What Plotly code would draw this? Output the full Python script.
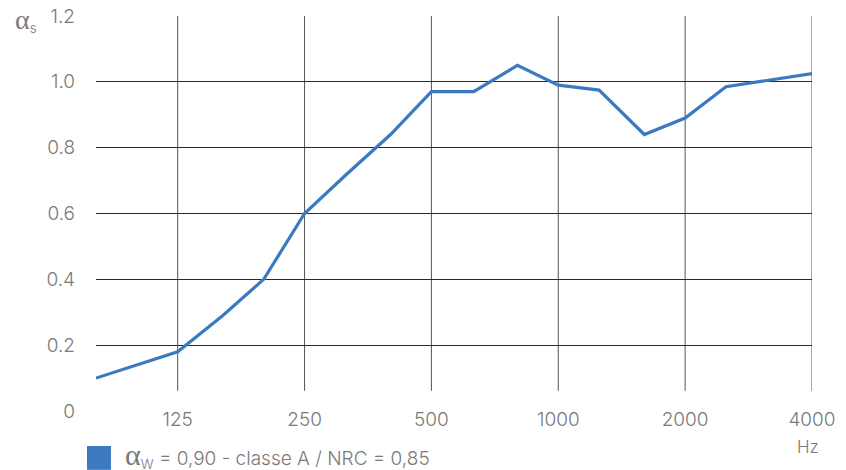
import math
import plotly.graph_objects as go

# Third-octave centre frequencies (Hz) and sound absorption coefficient alpha_s
freqs = [80, 100, 125, 160, 200, 250, 315, 400, 500, 630, 800, 1000, 1250, 1600, 2000, 2500, 3150, 4000]
alpha_s = [0.10, 0.14, 0.18, 0.29, 0.40, 0.60, 0.72, 0.84, 0.97, 0.97, 1.05, 0.99, 0.975, 0.84, 0.89, 0.985, 1.005, 1.025]

x_ticks = [125, 250, 500, 1000, 2000, 4000]
x_tick_labels = ["125", "250", "500", "1000", "2000", "4000"]
y_ticks = [0, 0.2, 0.4, 0.6, 0.8, 1.0, 1.2]
y_tick_labels = ["0", "0.2", "0.4", "0.6", "0.8", "1.0", "1.2"]

legend_text = "= 0,90 - classe A / NRC = 0,85"

LINE_COLOR = "#3b79c1"
TEXT_COLOR = "#7a7a7a"
FONT = "Inter, Open Sans, sans-serif"

fig = go.Figure()
fig.add_trace(go.Scatter(
    x=freqs, y=alpha_s, mode="lines",
    line=dict(color=LINE_COLOR, width=3.2),
    showlegend=False, hoverinfo="x+y",
))

# vertical grid lines (stop slightly above the bottom of the plot)
shapes = []
for xv in x_ticks:
    shapes.append(dict(type="line", xref="x", yref="paper", x0=xv, x1=xv,
                       y0=0.051, y1=1.0, line=dict(color="#555555", width=1), layer="below"))
# legend swatch
shapes.append(dict(type="rect", xref="paper", yref="paper",
                   x0=-0.0126, x1=0.0209, y0=-0.149, y1=-0.0886,
                   fillcolor=LINE_COLOR, line=dict(width=0)))

annotations = [
    dict(xref="paper", yref="paper", x=-0.079, y=0.99, xanchor="right", yanchor="middle",
         text="<span style='font-family:Liberation Serif;font-size:28px'>α</span><sub>s</sub>",
         showarrow=False, font=dict(family=FONT, size=19, color=TEXT_COLOR, weight=300)),
    dict(xref="paper", yref="paper", x=0.994, y=-0.091, xanchor="center", yanchor="middle",
         text="Hz", showarrow=False, font=dict(family=FONT, size=17, color=TEXT_COLOR, weight=300)),
    dict(xref="paper", yref="paper", x=0.0377, y=-0.112, xanchor="left", yanchor="middle",
         text="<span style='font-family:Liberation Serif;font-size:30px'>α</span><sub>W</sub> " + legend_text,
         showarrow=False, font=dict(family=FONT, size=19, color=TEXT_COLOR, weight=300)),
]

fig.update_layout(
    width=846, height=470,
    margin=dict(l=96, r=34, t=16, b=59),
    paper_bgcolor="white", plot_bgcolor="white",
    font=dict(family=FONT, size=19, color=TEXT_COLOR, weight=300),
    shapes=shapes, annotations=annotations,
    xaxis=dict(type="log", range=[math.log10(80), math.log10(4000)],
               tickvals=x_ticks, ticktext=x_tick_labels,
               showgrid=False, zeroline=False, showline=False, ticks="",
               ticklabelstandoff=-5, automargin=False,
               tickfont=dict(family=FONT, size=19, color=TEXT_COLOR, weight=300)),
    yaxis=dict(range=[0, 1.2], tickvals=y_ticks, ticktext=y_tick_labels,
               showgrid=True, gridcolor="#2a2a2a", gridwidth=1,
               zeroline=False, showline=False, ticks="",
               ticklabelstandoff=20, automargin=False,
               tickfont=dict(family=FONT, size=19, color=TEXT_COLOR, weight=300)),
)

fig.write_html("out.html", config={"displayModeBar": False},
               post_script="document.body.style.margin='0px';document.body.style.overflow='hidden';")
